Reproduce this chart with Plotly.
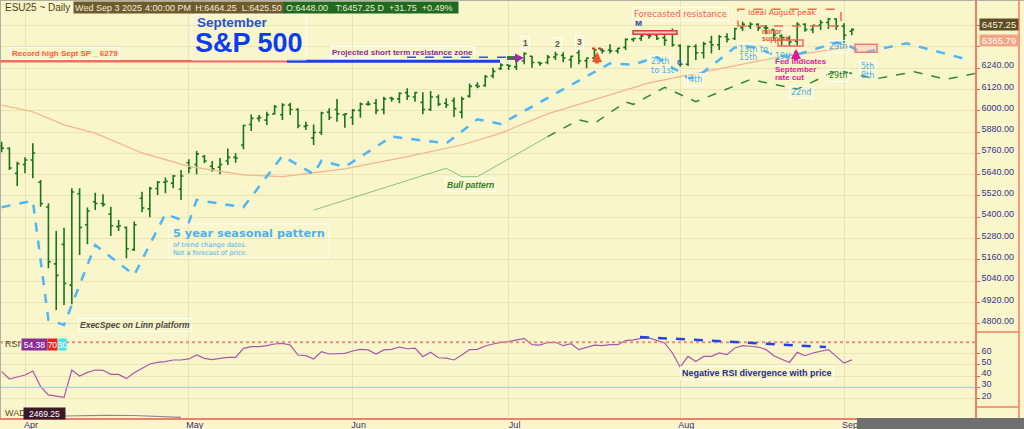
import pandas as pd
import plotly.graph_objects as go
from plotly.subplots import make_subplots

# trading days shown on the chart (weekends and exchange holidays skipped)
holidays = ["2025-04-18", "2025-05-26", "2025-06-19", "2025-07-04", "2025-09-01"]
days = [d for d in pd.bdate_range("2025-03-27", "2025-09-03") if d.strftime("%Y-%m-%d") not in holidays]

# ESU25 daily bars, Mar 27 .. Sep 3
opens = [5802, 5787, 5647,
         5697, 5722, 5597, 5457, 5137, 5247, 5017, 5532, 5357, 5487, 5477, 5417, 5347, 5342, 5217, 5507, 5447, 5562, 5597, 5592, 5557,
         5707, 5697, 5742, 5687, 5682, 5717, 5737, 5807, 5922, 5957, 5947, 5982, 5977, 6032, 6007, 5912, 5847, 5877, 5992, 6007, 5977,
         5962, 6002, 6037, 6042, 6007, 6072, 6067, 6102, 6077, 6047, 6007, 6077, 6042, 6057, 5992, 6082, 6142, 6142, 6197, 6237,
         6257, 6247, 6282, 6307, 6272, 6272, 6302, 6312, 6287, 6327, 6282, 6297, 6342, 6342, 6337, 6357, 6402, 6407, 6427, 6427, 6412, 6437,
         6367, 6262, 6362, 6327, 6387, 6372, 6417, 6407, 6467, 6477, 6487, 6467, 6457, 6422, 6407, 6392, 6487, 6457, 6482, 6497, 6517,
         6477, 6448]
highs = [5825, 5794, 5713,
         5738, 5816, 5610, 5478, 5322, 5341, 5563, 5563, 5454, 5538, 5529, 5459, 5384, 5347, 5375, 5544, 5572, 5604, 5623, 5638, 5666,
         5726, 5773, 5751, 5717, 5734, 5787, 5760, 5921, 5978, 5976, 5994, 6032, 6042, 6045, 6014, 5938, 5923, 5994, 6014, 6066, 5985,
         6010, 6047, 6055, 6066, 6079, 6079, 6104, 6126, 6107, 6104, 6111, 6092, 6070, 6075, 6079, 6154, 6160, 6201, 6242, 6267,
         6262, 6295, 6329, 6310, 6276, 6314, 6333, 6329, 6310, 6342, 6299, 6352, 6352, 6374, 6355, 6408, 6411, 6427, 6437, 6430, 6427, 6464,
         6374, 6367, 6374, 6389, 6423, 6427, 6436, 6468, 6502, 6498, 6493, 6483, 6460, 6431, 6423, 6498, 6493, 6483, 6511, 6524, 6521,
         6493, 6464.25]
lows = [5766, 5666, 5576,
        5647, 5619, 5459, 5112, 4877, 4905, 4909, 5187, 5247, 5441, 5459, 5294, 5322, 5168, 5210, 5428, 5400, 5525, 5535, 5563, 5497,
        5647, 5642, 5704, 5656, 5642, 5694, 5707, 5783, 5886, 5938, 5920, 5978, 5948, 5976, 5901, 5891, 5807, 5863, 5948, 5938, 5904,
        5920, 5961, 6028, 5980, 5980, 6051, 6042, 6060, 6051, 5980, 5998, 6025, 6015, 5965, 5957, 6073, 6126, 6135, 6183, 6229,
        6229, 6229, 6262, 6242, 6254, 6262, 6286, 6273, 6242, 6262, 6239, 6276, 6323, 6323, 6323, 6342, 6389, 6393, 6405, 6398, 6366, 6361,
        6248, 6252, 6286, 6295, 6323, 6342, 6385, 6398, 6449, 6460, 6449, 6431, 6393, 6366, 6366, 6366, 6445, 6436, 6455, 6460, 6455,
        6385, 6425.5]
closes = [5789, 5677, 5702,
          5722, 5762, 5477, 5149, 5072, 5027, 5542, 5342, 5435, 5477, 5472, 5352, 5352, 5222, 5357, 5452, 5562, 5597, 5602, 5632, 5632,
          5677, 5757, 5717, 5672, 5697, 5737, 5732, 5917, 5957, 5962, 5977, 6022, 6032, 6007, 5917, 5917, 5877, 5987, 5962, 5982, 5982,
          6002, 6037, 6037, 6002, 6067, 6067, 6097, 6082, 6102, 6007, 6077, 6037, 6032, 6012, 6067, 6137, 6137, 6192, 6222, 6257,
          6252, 6282, 6322, 6272, 6267, 6302, 6317, 6297, 6307, 6282, 6297, 6342, 6337, 6337, 6352, 6402, 6407, 6422, 6422, 6407, 6397, 6372,
          6262, 6362, 6327, 6377, 6372, 6417, 6402, 6462, 6487, 6487, 6467, 6467, 6427, 6412, 6387, 6487, 6457, 6482, 6497, 6517, 6477,
          6425.5, 6457.25]

# RSI per bar
rsi = [43.9, 37.4, 39.2,
       40.9, 44.5, 30.6, 23.2, 22.2, 21.1, 45.4, 40.1, 43.3, 45.4, 45.1, 41.5, 41.5, 37.7, 43.0, 46.9, 50.7, 52.2, 52.8, 54.3, 54.3,
       55.2, 58.7, 55.7, 54.6, 55.7, 56.6, 56.6, 64.6, 66.1, 66.1, 67.0, 68.5, 69.1, 67.6, 58.7, 58.1, 55.2, 61.7, 59.6, 60.2, 60.2,
       62.3, 63.7, 63.2, 59.6, 63.2, 63.7, 65.8, 64.3, 64.9, 57.2, 61.1, 56.3, 56.0, 54.3, 58.7, 63.5, 63.7, 66.7, 68.5, 70.0,
       70.6, 71.8, 73.5, 67.9, 67.5, 69.8, 70.0, 67.0, 68.8, 63.5, 65.5, 67.5, 67.0, 67.9, 67.9, 71.5, 72.2, 73.5, 73.9, 71.8, 69.4, 60.5,
       47.9, 57.5, 53.0, 57.5, 57.5, 60.5, 59.0, 65.0, 67.0, 66.5, 65.8, 63.5, 58.1, 55.0, 52.1, 61.1, 58.1, 60.5, 62.0, 63.5, 57.5,
       51.5, 54.38]

# moving average (orange line)
ma_dates = ["2025-03-27", "2025-04-02", "2025-04-08", "2025-04-14", "2025-04-23", "2025-05-01", "2025-05-12", "2025-05-19",
            "2025-05-30", "2025-06-11", "2025-06-23", "2025-06-30", "2025-07-09", "2025-07-21", "2025-07-28", "2025-08-07",
            "2025-08-19", "2025-08-28", "2025-09-03"]
ma_values = [6032, 5994, 5920, 5874, 5762, 5686, 5638, 5629, 5672, 5741, 5807, 5874, 5982, 6091, 6157, 6227, 6297, 6342, 6365.79]

# 5 year seasonal pattern (light blue dashed)
seas_dates = ["2025-03-27", "2025-04-02", "2025-04-04", "2025-04-08", "2025-04-14", "2025-04-22", "2025-04-28", "2025-05-01",
              "2025-05-02", "2025-05-12", "2025-05-19", "2025-05-23", "2025-05-27", "2025-05-30", "2025-06-09", "2025-06-18",
              "2025-06-25", "2025-06-30", "2025-07-21", "2025-07-24", "2025-07-29", "2025-07-31", "2025-08-01", "2025-08-04",
              "2025-08-05", "2025-08-12", "2025-08-14", "2025-08-15", "2025-08-19", "2025-08-21", "2025-08-29", "2025-09-02",
              "2025-09-04", "2025-09-05", "2025-09-12", "2025-09-24"]
seas_values = [5456, 5493, 4821, 4793, 5243, 5074, 5418, 5369, 5497, 5456, 5745, 5643, 5718, 5683, 5854, 5816,
               5952, 5925, 6267, 6260, 6303, 6241, 6218, 6184, 6184, 6356, 6361, 6351, 6314, 6303, 6384, 6381,
               6333, 6333, 6380, 6286]

# bull pattern (green)
bull_dates = ["2025-05-23", "2025-06-18", "2025-06-23", "2025-06-25", "2025-07-09"]
bull_values = [5440, 5676, 5628, 5628, 5854]
bull2_dates = ["2025-07-09", "2025-07-15", "2025-07-17", "2025-07-23", "2025-07-24", "2025-07-30", "2025-08-05", "2025-08-14",
               "2025-08-22", "2025-08-29", "2025-09-02", "2025-09-08", "2025-09-15", "2025-09-19", "2025-09-25"]
bull2_values = [5854, 5948, 5929, 6049, 6036, 6132, 6051, 6176, 6122, 6225, 6220, 6179, 6220, 6177, 6211]

wad_dates = ["2025-04-08", "2025-04-15", "2025-04-22", "2025-04-30"]
wad_values = [2415, 2422, 2420, 2402]

price_ticks = list(range(4800, 6481, 120))
price_text = ["%.2f" % v if v <= 6240 else "" for v in price_ticks]
month_ticks = ["2025-04-01", "2025-05-01", "2025-06-02", "2025-07-01", "2025-08-01", "2025-09-02"]
month_text = ["Apr", "May", "Jun", "Jul", "Aug", "Sep"]

BG = "#FAF6CC"
GRID = "#ebe3b4"
RED = "#f07e6a"
W, HA = 975, 418


def px(x):
  return x / W


def py(y):
  return (HA - y) / HA


fig = make_subplots(rows=3, cols=1, shared_xaxes=True, vertical_spacing=0, row_heights=[335, 72, 11])

fig.add_trace(go.Scatter(x=ma_dates, y=ma_values, mode="lines", line=dict(color="#f6b38c", width=1.2), hoverinfo="skip"), row=1, col=1)
fig.add_trace(go.Scatter(x=bull_dates, y=bull_values, mode="lines", line=dict(color="#86c47a", width=1), hoverinfo="skip"), row=1, col=1)
fig.add_trace(go.Scatter(x=bull2_dates, y=bull2_values, mode="lines", line=dict(color="#2e8a2e", width=1.5, dash="dash"), hoverinfo="skip"), row=1, col=1)
fig.add_trace(go.Scatter(x=seas_dates, y=seas_values, mode="lines", line=dict(color="#4fb6f6", width=2.5, dash="dash"), hoverinfo="skip"), row=1, col=1)
fig.add_trace(go.Ohlc(x=days, open=opens, high=highs, low=lows, close=closes,
                      increasing_line_color="#18761a", decreasing_line_color="#18761a",
                      line_width=1.6, tickwidth=0.3), row=1, col=1)
fig.add_trace(go.Scatter(x=days, y=rsi, mode="lines", line=dict(color="#a957a8", width=1.2)), row=2, col=1)
fig.add_trace(go.Scatter(x=wad_dates, y=wad_values, mode="lines", line=dict(color="#8a8a8a", width=1.2)), row=3, col=1)

fig.update_xaxes(type="date", range=["2025-03-26 19:00", "2025-09-24 19:00"],
                 rangebreaks=[dict(bounds=["sat", "mon"]), dict(values=holidays)],
                 tickvals=month_ticks, ticktext=month_text, showgrid=True, gridcolor=GRID, gridwidth=1,
                 zeroline=False, automargin=False, rangeslider_visible=False)
fig.update_xaxes(showticklabels=True, ticks="", tickfont=dict(family="Liberation Sans", size=9, color="#303072"),
                 ticklabelshift=6, ticklabelstandoff=-3, showline=True, linecolor=RED, linewidth=1.5, row=3, col=1)

axis_common = dict(side="right", zeroline=False, automargin=False, showline=True, linecolor=RED, linewidth=1.5,
                   ticks="outside", ticklen=3, tickcolor="#f05a48",
                   tickfont=dict(family="Liberation Sans", size=9, color="#34348a"), ticklabelshift=-3)
fig.update_yaxes(range=[4736, 6624], tickvals=price_ticks, ticktext=price_text, gridcolor=GRID, **axis_common, row=1, col=1)
fig.update_yaxes(range=[12.5, 76.5], tickvals=[20, 30, 40, 50, 60], gridcolor=GRID, **axis_common, row=2, col=1)
fig.update_yaxes(range=[2395, 2505], showticklabels=False, showgrid=False, side="right", zeroline=False,
                 showline=True, linecolor=RED, linewidth=1.5, row=3, col=1)

shapes = [
  # RSI 70 / 30 levels and divergence line
  dict(type="line", xref="paper", x0=0, x1=1, yref="y2", y0=70, y1=70, line=dict(color="#f08a7e", width=2, dash="dot")),
  dict(type="line", xref="paper", x0=0, x1=1, yref="y2", y0=30, y1=30, line=dict(color="#6ee6e2", width=1)),
  dict(type="line", xref="paper", x0=px(640), x1=px(826), yref="y2", y0=74.8, y1=65.8, line=dict(color="#2445e2", width=2.5, dash="dash")),
  # record high / projected resistance
  dict(type="line", xref="paper", x0=0, x1=px(287), yref="y", y0=6279, y1=6279, line=dict(color="#f26b5b", width=2.5)),
  dict(type="line", xref="paper", x0=px(287), x1=px(500), yref="y", y0=6279, y1=6279, line=dict(color="#1f3fe6", width=3)),
  dict(type="line", xref="paper", x0=px(407), x1=px(508), yref="y", y0=6301, y1=6301, line=dict(color="#3050e0", width=1.5, dash="dash")),
  dict(type="line", xref="paper", x0=px(507), x1=px(518), yref="y", y0=6297, y1=6297, line=dict(color="#2a8a2a", width=4)),
  # boxes
  dict(type="rect", xref="paper", yref="paper", x0=px(633), x1=px(677), y0=py(34.3), y1=py(30.7),
       fillcolor="#f9c4bc", line=dict(color="#e23a3a", width=1.5)),
  dict(type="rect", xref="paper", yref="paper", x0=px(738), x1=px(841), y0=py(26), y1=py(9.3),
       line=dict(color="#f06a4a", width=1.5, dash="dash")),
  dict(type="rect", xref="paper", yref="paper", x0=px(778), x1=px(803), y0=py(46), y1=py(40),
       line=dict(color="#f06868", width=1.5)),
  dict(type="rect", xref="paper", yref="paper", x0=px(855), x1=px(877), y0=py(52.3), y1=py(44.3),
       fillcolor="rgba(255,190,180,0.35)", line=dict(color="#f07b7b", width=1.5)),
  dict(type="line", xref="paper", yref="paper", x0=px(592), x1=px(603), y0=py(48.5), y1=py(48.5),
       line=dict(color="#e83020", width=2, dash="dot")),
  dict(type="rect", xref="paper", yref="paper", x0=px(192), x1=px(306), y0=py(60), y1=py(14),
       line=dict(color="rgba(255,255,255,0.8)", width=1)),
  dict(type="rect", xref="paper", yref="paper", x0=px(169), x1=px(329), y0=py(258), y1=py(224),
       line=dict(color="rgba(255,255,255,0.8)", width=1)),
  # frame bits
  dict(type="line", xref="paper", yref="paper", x0=0, x1=px(1024), y0=1, y1=1, line=dict(color="#9a9a9a", width=1.5)),
  dict(type="line", xref="paper", yref="paper", x0=0, x1=0, y0=0, y1=1, line=dict(color="#9a9a9a", width=1.5)),
  dict(type="line", xref="paper", yref="paper", x0=px(1019), x1=px(1019), y0=0, y1=1, line=dict(color=RED, width=1.5)),
  dict(type="line", xref="paper", yref="paper", x0=1, x1=px(1019), y0=py(332), y1=py(332), line=dict(color=RED, width=1.5)),
  dict(type="line", xref="paper", yref="paper", x0=1, x1=px(1019), y0=py(407), y1=py(407), line=dict(color=RED, width=1.5)),
  dict(type="rect", xref="paper", yref="paper", x0=px(857), x1=px(1024), y0=py(429), y1=py(418),
       fillcolor="#6f6f6f", line=dict(width=0)),
]

notes = []


def note(text, x, y, size, color, anchor="left", family="Liberation Sans", box=False):
  a = dict(text=text, xref="paper", yref="paper", x=px(x), y=py(y), xanchor=anchor, yanchor="middle",
           showarrow=False, font=dict(family=family, size=size, color=color), borderpad=1)
  if box:
    a.update(bordercolor="rgba(255,255,255,0.85)", borderwidth=1)
  notes.append(a)


def tag(text, x0, x1, y, bg, fg="#f2ecd6", size=9, family="Liberation Sans"):
  notes.append(dict(text=text, xref="paper", yref="paper", x=px((x0 + x1) / 2), y=py(y), xanchor="center",
                    yanchor="middle", showarrow=False, width=x1 - x0, height=11, bgcolor=bg, borderpad=0,
                    font=dict(family=family, size=size, color=fg)))


# header
note("ESU25 ~ Daily", 3, 7, 10, "#4e3f12")
tag("Wed Sep 3 2025", 74, 143, 7, "#6e5a2c")
tag("4:00:00 PM", 143, 193, 7, "#6e5a2c")
tag("H:6464.25&nbsp;&nbsp;L:6425.50", 193, 284, 7, "#6e5a2c")
tag("O:6448.00", 284, 330, 7, "#1e6a1e")
tag("T:6457.25 D&nbsp;&nbsp;+31.75&nbsp;&nbsp;+0.49%", 330, 458, 7, "#1e6a1e")

note("<b>September</b>", 232, 22, 13.5, "#2552dc", anchor="center")
note("<b>S&amp;P 500</b>", 249, 43, 27, "#0b3cf2", anchor="center")
note("<b>Record high Sept SP _ 6279</b>", 10, 53, 8, "#ff5a36", box=True)
note("<b>Projected short term resistance zone</b>", 330, 52.5, 8, "#8c2a9c", box=True)
note("<b>1</b>", 525, 43, 8.5, "#555555", anchor="center", box=True)
note("<b>2</b>", 557, 44, 8.5, "#555555", anchor="center", box=True)
note("<b>3</b>", 579, 42, 8.5, "#555555", anchor="center", box=True)
note("<b>M</b>", 638, 23, 8.5, "#2848a8", anchor="center")
note("Forecasted resistance", 680, 14, 8.5, "#f35f5f", anchor="center", family="DejaVu Sans", box=True)
note("Ideal August peak", 782, 12.7, 7.5, "#e8522e", anchor="center", family="DejaVu Sans")
note("<b>minor</b>", 760, 31, 7, "#e8502e")
note("<b>support</b>", 760, 39, 7, "#e8502e")

blue = "#4aaef0"
note("29th", 649, 61.7, 8, blue, family="DejaVu Sans", box=True)
note("to 1st", 649, 70.7, 8, blue, family="DejaVu Sans")
note("4th", 687, 79.3, 8, blue, family="DejaVu Sans", box=True)
note("13th to", 737, 50, 8, blue, family="DejaVu Sans", box=True)
note("15th", 737, 57.7, 8, blue, family="DejaVu Sans")
note("19th", 773, 56, 8, blue, family="DejaVu Sans")
note("29th", 827, 46.7, 8, blue, family="DejaVu Sans", box=True)
note("5th", 859, 66, 8, blue, family="DejaVu Sans", box=True)
note("8th", 859, 75.7, 8, blue, family="DejaVu Sans")
note("22nd", 789, 92.3, 8, blue, family="DejaVu Sans", box=True)
note("29th", 827, 76, 8, "#2a7a2a", family="DejaVu Sans", box=True)
note("<b>0</b>", 679, 63, 8, "#2f4fd0", anchor="center")

note("<b>Fed indicates</b>", 773, 61.7, 8, "#e8189c")
note("<b>September</b>", 773, 69.3, 8, "#e8189c")
note("<b>rate cut</b>", 773, 77.3, 8, "#e8189c")

note("<b>5 year seasonal pattern</b>", 171, 234, 11.3, "#48b2f4", family="DejaVu Sans")
note("of trend change dates.", 171, 245, 6.5, "#48b2f4", family="DejaVu Sans")
note("Not a forecast of price.", 171, 252.7, 6.5, "#48b2f4", family="DejaVu Sans")
note("<b><i>ExecSpec on Linn platform</i></b>", 78, 325, 8.5, "#484848", box=True)
note("<b><i>Bull pattern</i></b>", 445, 185, 8.5, "#2e7d2e", box=True)
note("<b>Negative RSI divergence with price</b>", 680, 372.7, 9, "#1c2c8c", box=True)

# panel labels
note("RSI", 3, 344, 9, "#5a4a20")
tag("54.38", 22, 47, 344, "#8b2f95", "#ffffff", 8.5)
tag("70", 48, 57, 344, "#e8231f", "#ffffff", 8.5)
tag("30", 59, 66, 344, "#3fe6f2", "#ffffff", 8.5)
note("WAD", 3, 413, 9, "#5a4a20")
tag("2469.25", 24, 65, 413, "#3a1a2a", "#ffffff", 8.5)

# last value labels on the price axis
tag("6457.25", 980, 1018, 24.3, "#5f4d23", "#f4f0e0", 9.5)
tag("6365.79", 980, 1018, 40.5, "#f2a584", "#ffffff", 9.5)

# arrows
notes.append(dict(x=px(524), y=py(58), xref="paper", yref="paper", ax=-18, ay=0, text="", showarrow=True,
                  arrowhead=2, arrowsize=1.2, arrowwidth=1.5, arrowcolor="#9a2aa8"))
notes.append(dict(x=px(597), y=py(52), xref="paper", yref="paper", ax=0, ay=13, text="", showarrow=True,
                  arrowhead=2, arrowsize=0.5, arrowwidth=4, arrowcolor="#f0552a"))
notes.append(dict(x=px(796), y=py(49), xref="paper", yref="paper", ax=0, ay=13, text="", showarrow=True,
                  arrowhead=2, arrowsize=0.5, arrowwidth=4, arrowcolor="#e0189a"))

fig.update_layout(
  width=1024, height=429,
  margin=dict(l=0, r=49, t=0, b=11),
  paper_bgcolor=BG, plot_bgcolor=BG,
  showlegend=False,
  shapes=shapes,
  annotations=notes,
  xaxis_rangeslider_visible=False,
)

# page body margin would shift the fixed-size figure, so drop it
fig.write_html("out.html", config={"displayModeBar": False},
               post_script="document.body.style.margin='0';document.body.style.overflow='hidden';")
